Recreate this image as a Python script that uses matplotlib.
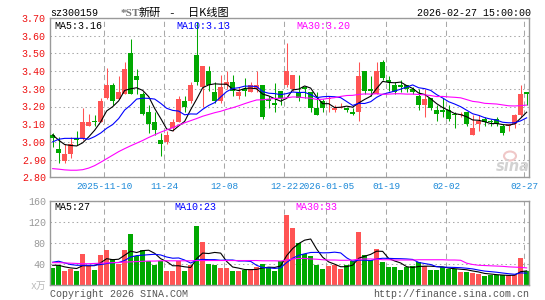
import numpy as np
import matplotlib
matplotlib.use('Agg')
import matplotlib.pyplot as plt
from matplotlib.patches import Ellipse

plt.rcParams['font.family'] = ['Liberation Mono', 'Noto Sans CJK SC', 'DejaVu Sans']

# ---------------- data ----------------
open_ = [3.04, 2.96, 2.89, 2.93, 3.02, 3.02, 3.09, 3.12, 3.11, 3.25,
         3.32, 3.24, 3.27, 3.50, 3.37, 3.27, 3.17, 3.11, 3.01, 3.00,
         3.08, 3.11, 3.23, 3.23, 3.49, 3.31, 3.40, 3.28, 3.23, 3.32,
         3.34, 3.26, 3.30, 3.28, 3.30, 3.32, 3.24, 3.22, 3.29, 3.32,
         3.30, 3.28, 3.31, 3.28, 3.19, 3.23, 3.24, 3.18, 3.19, 3.19,
         3.17, 3.17, 3.40, 3.30, 3.27, 3.45, 3.35, 3.32, 3.32, 3.32,
         3.30, 3.26, 3.21, 3.25, 3.18, 3.18, 3.18, 3.16, 3.15, 3.17,
         3.04, 3.10, 3.13, 3.12, 3.13, 3.09, 3.09, 3.10, 3.15, 3.28]
high = [3.05, 3.03, 2.99, 3.03, 3.06, 3.19, 3.16, 3.15, 3.25, 3.42,
        3.33, 3.37, 3.45, 3.58, 3.41, 3.28, 3.21, 3.17, 3.05, 3.06,
        3.13, 3.26, 3.26, 3.34, 3.68, 3.43, 3.43, 3.34, 3.38, 3.40,
        3.38, 3.31, 3.36, 3.34, 3.40, 3.32, 3.26, 3.33, 3.29, 3.56,
        3.38, 3.38, 3.31, 3.28, 3.28, 3.24, 3.26, 3.21, 3.22, 3.20,
        3.19, 3.45, 3.40, 3.37, 3.45, 3.46, 3.37, 3.34, 3.35, 3.32,
        3.31, 3.30, 3.30, 3.25, 3.21, 3.25, 3.21, 3.17, 3.17, 3.17,
        3.15, 3.15, 3.14, 3.13, 3.14, 3.10, 3.10, 3.16, 3.32, 3.28]
low = [2.97, 2.88, 2.88, 2.91, 2.98, 3.01, 3.09, 3.09, 3.11, 3.24,
       3.21, 3.24, 3.27, 3.27, 3.27, 3.15, 3.05, 3.04, 2.92, 2.99,
       3.06, 3.11, 3.17, 3.22, 3.32, 3.20, 3.29, 3.22, 3.22, 3.30,
       3.26, 3.24, 3.26, 3.28, 3.28, 3.13, 3.19, 3.17, 3.21, 3.31,
       3.29, 3.23, 3.25, 3.17, 3.15, 3.17, 3.17, 3.17, 3.19, 3.17,
       3.15, 3.12, 3.27, 3.26, 3.27, 3.35, 3.29, 3.27, 3.28, 3.28,
       3.27, 3.18, 3.14, 3.18, 3.12, 3.14, 3.12, 3.08, 3.14, 3.09,
       3.04, 3.06, 3.09, 3.09, 3.09, 3.04, 3.06, 3.08, 3.14, 3.21]
close = [3.02, 2.94, 2.93, 2.99, 3.01, 3.11, 3.11, 3.11, 3.23, 3.32,
         3.23, 3.28, 3.41, 3.27, 3.35, 3.16, 3.10, 3.07, 2.99, 3.04,
         3.11, 3.24, 3.20, 3.32, 3.34, 3.43, 3.32, 3.23, 3.31, 3.34,
         3.29, 3.28, 3.29, 3.32, 3.32, 3.14, 3.23, 3.21, 3.25, 3.40,
         3.38, 3.25, 3.30, 3.19, 3.15, 3.19, 3.25, 3.19, 3.20, 3.18,
         3.16, 3.37, 3.29, 3.29, 3.40, 3.36, 3.34, 3.28, 3.31, 3.30,
         3.28, 3.21, 3.24, 3.19, 3.16, 3.17, 3.13, 3.15, 3.16, 3.10,
         3.08, 3.12, 3.11, 3.11, 3.10, 3.05, 3.10, 3.15, 3.27, 3.27]

ma5 = [3.040, 3.010, 2.985, 2.980, 2.977, 2.995, 3.028, 3.066, 3.113, 3.175,
       3.199, 3.232, 3.291, 3.300, 3.306, 3.291, 3.256, 3.189, 3.133, 3.073,
       3.062, 3.090, 3.116, 3.182, 3.242, 3.306, 3.322, 3.328, 3.326, 3.326,
       3.298, 3.290, 3.302, 3.304, 3.300, 3.270, 3.260, 3.244, 3.230, 3.246,
       3.294, 3.298, 3.316, 3.304, 3.254, 3.216, 3.216, 3.194, 3.196, 3.202,
       3.196, 3.220, 3.240, 3.258, 3.302, 3.342, 3.336, 3.334, 3.338, 3.318,
       3.302, 3.276, 3.268, 3.244, 3.216, 3.194, 3.178, 3.160, 3.154, 3.142,
       3.124, 3.122, 3.114, 3.104, 3.104, 3.098, 3.094, 3.102, 3.134, 3.168]
ma10 = [3.000, 3.015, 3.020, 3.020, 3.020, 3.020, 3.015, 3.030, 3.050, 3.077,
        3.098, 3.132, 3.180, 3.208, 3.242, 3.247, 3.246, 3.242, 3.218, 3.190,
        3.178, 3.174, 3.153, 3.158, 3.157, 3.184, 3.206, 3.222, 3.254, 3.284,
        3.302, 3.306, 3.315, 3.315, 3.313, 3.284, 3.275, 3.273, 3.267, 3.273,
        3.282, 3.279, 3.280, 3.267, 3.250, 3.255, 3.257, 3.255, 3.250, 3.228,
        3.206, 3.218, 3.217, 3.227, 3.252, 3.269, 3.278, 3.287, 3.298, 3.310,
        3.322, 3.306, 3.301, 3.291, 3.267, 3.248, 3.227, 3.214, 3.199, 3.179,
        3.159, 3.150, 3.137, 3.129, 3.123, 3.111, 3.108, 3.108, 3.119, 3.136]
ma30 = [2.849, 2.846, 2.842, 2.840, 2.840, 2.843, 2.852, 2.866, 2.885, 2.905,
        2.925, 2.945, 2.962, 2.978, 2.993, 3.008, 3.025, 3.040, 3.055, 3.068,
        3.080, 3.095, 3.108, 3.120, 3.132, 3.145, 3.155, 3.165, 3.173, 3.184,
        3.193, 3.204, 3.216, 3.227, 3.237, 3.238, 3.242, 3.246, 3.246, 3.249,
        3.254, 3.253, 3.249, 3.247, 3.240, 3.241, 3.246, 3.250, 3.257, 3.262,
        3.263, 3.268, 3.271, 3.270, 3.272, 3.269, 3.270, 3.272, 3.272, 3.270,
        3.270, 3.268, 3.266, 3.262, 3.256, 3.257, 3.254, 3.252, 3.249, 3.239,
        3.229, 3.225, 3.218, 3.216, 3.214, 3.209, 3.204, 3.203, 3.205, 3.208]

volume = [33.6, 38.0, 28.0, 31.7, 28.0, 60.3, 36.8, 29.8, 58.4, 67.9,
          50.2, 41.3, 67.9, 96.5, 55.2, 67.9, 45.7, 38.1, 45.7, 28.0,
          28.0, 45.7, 28.0, 39.4, 111.7, 81.3, 41.3, 38.1, 33.0, 33.0,
          28.0, 26.7, 29.2, 31.7, 35.6, 41.3, 34.3, 26.7, 45.7, 133.3,
          109.2, 80.6, 59.7, 56.5, 38.1, 31.7, 36.2, 38.1, 31.7, 39.4,
          45.7, 101.0, 58.4, 48.9, 69.8, 43.8, 34.3, 34.3, 29.8, 34.3,
          36.2, 43.8, 37.5, 29.8, 29.8, 34.3, 31.7, 31.7, 24.8, 24.8,
          23.0, 22.0, 18.0, 19.0, 19.0, 19.0, 19.0, 20.0, 52.0, 27.0]
vma5 = [38.0, 38.0, 35.0, 33.0, 31.9, 37.2, 37.0, 37.3, 42.7, 50.6,
        48.6, 49.5, 57.1, 64.8, 62.2, 65.8, 66.6, 60.7, 50.5, 45.1,
        37.1, 37.1, 35.1, 33.8, 50.6, 61.2, 60.3, 62.4, 61.1, 45.3,
        34.7, 32.6, 30.0, 29.7, 30.2, 32.9, 34.4, 33.9, 36.7, 56.3,
        69.8, 79.1, 85.7, 87.9, 68.8, 53.3, 44.4, 40.1, 35.2, 35.4,
        38.2, 51.2, 55.2, 58.7, 64.8, 64.4, 51.0, 46.2, 42.4, 35.3,
        33.8, 35.7, 36.3, 36.3, 35.4, 35.0, 32.6, 31.5, 30.5, 29.5,
        27.2, 25.3, 22.5, 21.4, 20.2, 19.4, 18.8, 19.2, 25.8, 27.4]
vma10 = [43.8, 45.7, 42.5, 39.4, 38.0, 38.0, 38.0, 38.0, 39.4, 41.3,
         42.9, 43.2, 47.2, 53.7, 56.4, 57.2, 58.1, 58.9, 57.6, 53.7,
         51.4, 51.9, 47.9, 42.2, 47.8, 49.2, 48.7, 48.7, 47.5, 48.0,
         48.0, 46.1, 46.2, 45.4, 37.8, 33.8, 33.1, 32.0, 33.2, 43.3,
         51.4, 56.8, 59.8, 62.3, 62.5, 61.6, 61.8, 62.9, 61.5, 52.1,
         45.8, 47.8, 47.7, 46.9, 50.1, 51.3, 51.1, 50.7, 50.5, 50.0,
         49.1, 43.4, 41.3, 39.4, 35.4, 34.4, 34.2, 33.9, 33.4, 32.4,
         31.1, 28.9, 27.0, 25.9, 24.8, 23.3, 22.0, 20.9, 23.6, 23.0]
vma30 = [43.0, 43.0, 42.5, 42.0, 41.5, 41.0, 41.0, 41.5, 42.0, 42.5,
         43.0, 43.5, 44.0, 44.5, 45.0, 45.5, 46.0, 46.0, 46.5, 46.5,
         46.5, 46.5, 46.5, 46.5, 47.0, 47.0, 47.0, 47.0, 47.0, 47.0,
         47.0, 47.0, 47.0, 47.0, 47.0, 46.5, 46.5, 46.5, 46.0, 48.0,
         50.0, 51.0, 51.0, 50.0, 49.5, 48.5, 48.0, 48.0, 47.5, 47.5,
         48.0, 49.5, 50.0, 50.0, 49.5, 48.5, 48.5, 48.0, 48.0, 48.0,
         48.0, 48.5, 48.5, 48.5, 48.5, 48.5, 48.0, 48.0, 47.5, 42.0,
         39.5, 38.0, 37.5, 37.0, 36.5, 36.0, 35.0, 34.5, 34.0, 33.0]

tick_index = [9, 19, 29, 39, 46, 56, 66, 79]
tick_labels = ['2025-11-10', '11-24', '12-08', '12-22', '2026-01-05',
               '01-19', '02-02', '02-27']
price_ticks = [2.80, 2.90, 3.00, 3.10, 3.20, 3.30, 3.40, 3.50, 3.60, 3.70]
vol_ticks = [40, 80, 120, 160]

code = 'sz300159'
name_st = '*ST'
name_rest = '新研'
kline_title = '日K线图'
stamp = '2026-02-27 15:00:00'
price_ma_text = ['MA5:3.16', 'MA10:3.13', 'MA30:3.20']
vol_ma_text = ['MA5:27', 'MA10:23', 'MA30:33']

# ---------------- drawing ----------------
W, H = 545, 300
fig = plt.figure(figsize=(W / 100, H / 100), dpi=100)
fig.patch.set_facecolor('white')


def rect(l, t, r, b):
    return [l / W, 1 - b / H, (r - l) / W, (b - t) / H]


def T(x, y, s, **kw):
    return fig.text(x / W, 1 - y / H, s, **kw)


RED = '#ff5454'
GREEN = '#00a800'
GRIDC = '#a8a8a8'
SPC = '#9a9a9a'

o = np.array(open_); h = np.array(high); l = np.array(low); c = np.array(close)
n = len(c)
xs = np.arange(n)
cols = [RED if c[i] >= o[i] else GREEN for i in range(n)]

ax = fig.add_axes(rect(50, 18, 529, 177.3))
axv = fig.add_axes(rect(50, 201, 529, 285.3))

xlim = (-0.445, 79.39)
gx = np.array(tick_index) - 0.4

for a in (ax, axv):
    a.set_xlim(*xlim)
    a.set_axisbelow(True)
    for s in a.spines.values():
        s.set_color(SPC)
        s.set_linewidth(1.0)
    a.set_xticks(gx)
    a.grid(axis='x', color=GRIDC, lw=0.75, ls=(0, (5, 3.5)))
    a.grid(axis='y', color=GRIDC, lw=0.75, ls=(0, (1.4, 2.8)))
    a.tick_params(length=0)

# price panel
ax.vlines(xs, l, h, colors=cols, lw=0.75, zorder=2)
body_bottom = np.minimum(o, c)
body_h = np.maximum(np.abs(c - o), 0.006)
ax.bar(xs, body_h, bottom=body_bottom, width=0.8, color=cols, lw=0, zorder=3)
ax.plot(xs, ma5, color='black', lw=0.8, zorder=4)
ax.plot(xs, ma10, color='#0000ff', lw=0.8, zorder=4)
ax.plot(xs, ma30, color='#ff00ff', lw=0.8, zorder=4)
ax.set_ylim(2.80, 3.70)
ax.set_yticks(price_ticks)
ax.set_yticklabels([f'{v:.2f}' for v in price_ticks], color='#ee1111',
                   fontsize=7.2, family='Liberation Mono')
ax.set_xticklabels(tick_labels, color='#1a88d8', fontsize=6.75,
                   family='Liberation Mono')
ax.tick_params(axis='y', pad=3)
ax.tick_params(axis='x', pad=3.5)

# volume panel
axv.bar(xs, volume, width=0.83, color=cols, lw=0, zorder=2)
axv.plot(xs, vma5, color='black', lw=0.8, zorder=4)
axv.plot(xs, vma10, color='#0000ff', lw=0.8, zorder=4)
axv.plot(xs, vma30, color='#ff00ff', lw=0.8, zorder=4)
axv.set_ylim(0, 160)
axv.set_yticks(vol_ticks)
axv.set_yticklabels([str(v) for v in vol_ticks], color='#999999',
                    fontsize=7.2, family='Liberation Mono')
axv.set_xticklabels([])
axv.tick_params(axis='y', pad=3)

# header texts
fs = 7.2
T(50, 15.5, code, fontsize=fs, color='black', va='baseline')
T(120.5, 15.8, name_st, fontsize=8, color='#777777', va='baseline',
  family='Liberation Serif', fontweight='bold')
T(139, 16.2, name_rest, fontsize=8, color='black', va='baseline',
  family='Noto Sans CJK SC')
T(172, 15.8, '-', fontsize=8, color='black', va='baseline', ha='center',
  family='Liberation Mono')
T(188.5, 16.2, kline_title, fontsize=8, color='black', va='baseline',
  family=['Noto Sans CJK SC'])
T(531, 15.5, stamp, fontsize=fs, color='black', va='baseline', ha='right')

ma_cols = ['black', '#0000ff', '#ff00ff']
for s, xx, cc in zip(price_ma_text, [54, 176, 296.5], ma_cols):
    T(xx, 28.6, s, fontsize=fs, color=cc, va='baseline')
for s, xx, cc in zip(vol_ma_text, [54, 174, 295], ma_cols):
    T(xx, 210, s, fontsize=fs, color=cc, va='baseline')

T(46, 289, 'x万', fontsize=7, color='#b8b8b8', va='baseline', ha='right',
  family=['Liberation Mono', 'Noto Sans CJK SC'])
T(50, 297, 'Copyright 2026 SINA.COM', fontsize=fs, color='#555555',
  va='baseline')
T(529, 297, 'http://finance.sina.com.cn', fontsize=fs, color='#555555',
  va='baseline', ha='right')

# faint sina watermark
T(512.5, 171, 'sina', fontsize=10.5, color='#d2d2d2', va='baseline',
  ha='center', family='DejaVu Sans', fontweight='bold', style='italic')
fig.add_artist(Ellipse((510 / W, 1 - 156 / H), 12 / W, 9 / H,
                       transform=fig.transFigure, fill=False,
                       edgecolor='#f0c8c8', lw=1.5))

fig.savefig('out.png', dpi=100, facecolor='white')
